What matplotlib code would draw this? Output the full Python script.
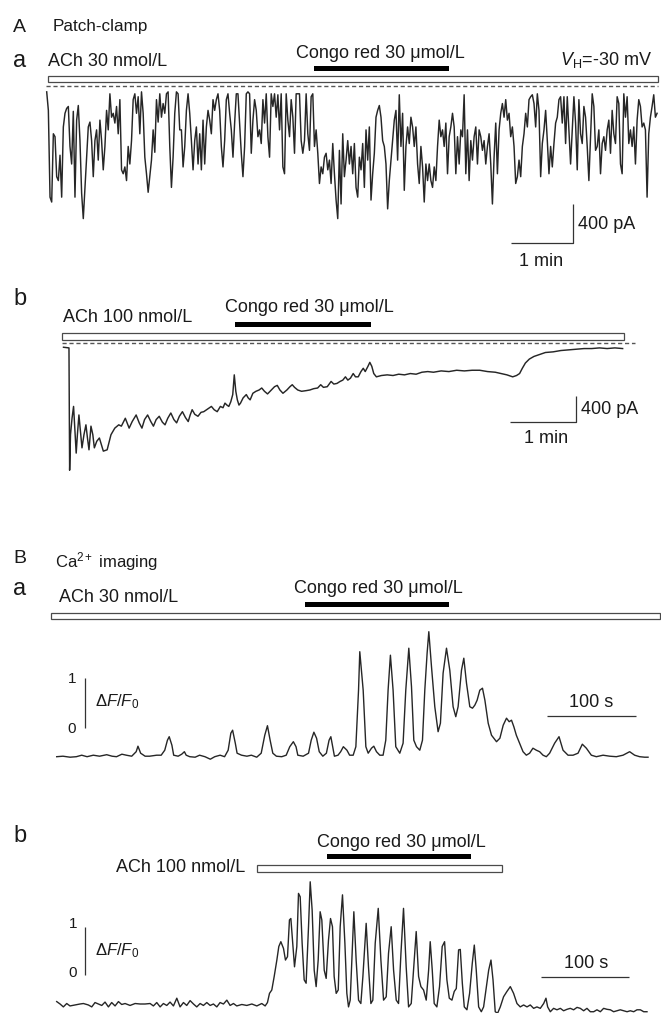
import numpy as np
import matplotlib.pyplot as plt
from matplotlib.patches import Rectangle
from matplotlib.transforms import Affine2D, blended_transform_factory

plt.rcParams['font.family'] = ['Liberation Sans', 'DejaVu Sans']
plt.rcParams['mathtext.fontset'] = 'custom'
plt.rcParams['mathtext.rm'] = 'Liberation Sans'
plt.rcParams['mathtext.it'] = 'Liberation Sans:italic'

# ---------------- data ----------------
# A a: whole-cell current at VH -30 mV, ACh 30 nmol/L, one sample every 1.61 s (pA)
aa_dt = 1.61
aa_current = [
    -60, -250, -1140, -1190, -490, -520, -930, -970, -710, -1140,
    -420, -280, -230, -210, -620, -800, -260, -1140, -350, -200,
    -560, -1100, -1360, -1040, -730, -420, -370, -560, -930, -560,
    -450, -760, -350, -560, -860, -620, -250, -450, -80, -320,
    -280, -380, -210, -490, -140, -860, -900, -830, -970, -620,
    -800, -560, -140, -80, -280, -110, -490, -60, -280, -730,
    -900, -1090, -930, -760, -450, -680, -140, -370, -80, -320,
    -180, -280, -80, -60, -620, -1040, -730, -280, -60, -80,
    -450, -450, -830, -620, -250, -80, -280, -560, -860, -560,
    -420, -800, -490, -860, -350, -800, -420, -250, -350, -490,
    -140, -250, -140, -80, -250, -620, -830, -560, -140, -80,
    -280, -450, -730, -380, -80, -80, -380, -690, -930, -620,
    -80, -60, -80, -690, -350, -140, -250, -520, -450, -590,
    -140, -380, -80, -520, -730, -80, -210, -80, -320, -90,
    -450, -80, -830, -900, -80, -350, -520, -140, -320, -690,
    -80, -80, -80, -560, -690, -560, -80, -490, -660, -110,
    -80, -620, -450, -690, -1000, -830, -900, -730, -690, -860,
    -760, -1000, -590, -900, -1170, -1360,
    -660, -1210, -490, -930, -760, -560, -800, -620, -900, -590,
    -1040, -1140, -730, -860, -590, -1040, -450, -760, -420, -1170,
    -900, -690, -320, -250, -200, -320, -560, -620, -800, -1260,
    -970, -760, -560, -350, -250, -760, -90, -620, -280, -1070,
    -620, -420, -590, -320, -420, -620, -420, -800, -1000, -620,
    -830, -1190, -800, -970, -800, -970, -1040, -830, -970, -620,
    -350, -520, -450, -620, -380, -900, -520, -420, -280, -420,
    -900, -520, -800, -450, -520, -90, -900, -450, -970, -560,
    -760, -520, -420, -800, -450, -520, -660, -560, -800, -620,
    -490, -800, -1210, -730, -380, -900, -450, -280, -180, -320,
    -140, -350, -280, -520, -420, -620, -1000, -930, -760, -930,
    -620, -490, -280, -420, -140, -110, -90, -180, -420, -80,
    -250, -930, -590, -450, -250, -560, -900, -620, -830, -590,
    -380, -320, -140, -110, -380, -110, -590, -110, -450, -800,
    -450, -110, -380, -860, -140, -490, -590, -210, -320, -620,
    -970, -520, -80, -210, -660, -620, -450, -900, -590, -520,
    -660, -450, -350, -690, -250, -490, -590, -110, -180, -800,
    -900, -80, -320, -110, -590, -450, -620, -420, -800, -350,
    -140, -210, -420, -380, -450, -1140, -490, -320, -210, -90,
    -320, -280,
]

# A b: ACh 100 nmol/L (s, pA)
ab_time = [
    0, 4.6, 5.0, 5.6, 6.4, 7.8, 9.2, 10.6, 11.6, 12.7, 14.1, 15.5, 16.9, 18.7,
    20.5, 21.9, 23.3, 25.1, 26.8, 28.2, 30.4, 32.8, 34.6, 36.4, 39.9, 43.4, 46.9,
    50.5, 52.9, 56.5, 60.0, 62.8, 66.4, 69.2, 71.7, 74.1, 76.9, 79.8, 82.2, 84.7,
    87.5, 90.4, 92.8, 95.3, 98.1, 100.9, 103.4, 105.9, 108.7, 111.5, 114.0, 115.8,
    117.6, 120.0, 122.9, 125.7, 128.2, 131.7, 135.2, 137.7, 140.5, 143.4, 145.8,
    147.6, 149.4, 151.1, 152.9, 154.7, 156.1, 157.5, 158.9, 160.4, 161.8, 164.2,
    167.1, 168.8, 170.6, 173.1, 175.9, 178.8, 181.2, 183.7, 186.5, 190.0, 192.9,
    195.4, 197.8, 200.6, 204.2, 207.0, 209.1, 211.2, 214.1, 217.6, 221.8, 225.2,
    228.7, 232.3, 235.1, 237.6, 241.1, 244.6, 247.1, 250.0, 252.8, 255.3, 257.7,
    259.9, 262.3, 264.8, 266.9, 269.4, 271.9, 274.0, 275.8, 278.3, 280.0, 281.8,
    283.6, 286.0, 290.6, 295.9, 301.2, 306.4, 311.7, 317.0, 322.3, 327.6, 332.9,
    338.2, 345.2, 352.3, 359.4, 366.4, 373.5, 380.5, 387.6, 394.7, 400.0, 405.3,
    410.6, 414.1, 416.9, 419.4, 422.2, 425.8, 430.0, 435.2, 440.5, 447.6, 454.6,
    461.7, 468.7, 475.8, 482.8, 489.9, 496.9, 504.0, 511.1,
]
ab_current = [
    -60, -70, -70, -1930, -1390, -1140, -960, -1390, -1670, -1390, -1090, -1340,
    -1590, -1390, -1240, -1440, -1620, -1260, -1390, -1590, -1490, -1440, -1540,
    -1640, -1620, -1390, -1290, -1240, -1260, -1140, -1290, -1190, -1090, -1210,
    -1290, -1160, -1090, -1190, -1260, -1160, -1110, -1200, -1240, -1140, -1060,
    -1160, -1210, -1110, -1040, -1130, -1190, -1090, -1010, -1080, -1110, -1050,
    -1040, -1000, -960, -1010, -1040, -960, -980, -910, -940, -960, -890, -780,
    -480, -730, -860, -940, -910, -830, -780, -830, -860, -760, -730, -710, -680,
    -730, -770, -710, -660, -640, -710, -760, -710, -660, -630, -670, -710, -730,
    -720, -710, -690, -680, -630, -670, -660, -580, -620, -610, -580, -560, -510,
    -560, -530, -460, -510, -510, -430, -380, -430, -350, -290, -350, -460, -510,
    -490, -480, -490, -470, -480, -460, -470, -440, -430, -440, -420, -430, -410,
    -420, -410, -410, -430, -440, -460, -480, -510, -490, -460, -380, -300, -240,
    -200, -170, -140, -130, -110, -100, -90, -80, -80, -70, -80, -70, -80,
]

# B a: Ca2+ signal, ACh 30 nmol/L (s, dF/F0)
ba_time = [
    0, 7, 15, 22, 28, 34, 41, 48, 56, 62, 67, 73, 78, 84, 89, 91, 94, 99, 104, 112,
    117, 121, 124, 126, 129, 131, 136, 140, 143, 145, 149, 155, 160, 166, 172, 177,
    183, 188, 192, 195, 197, 200, 202, 207, 213, 218, 224, 229, 233, 236, 239, 242,
    246, 252, 257, 261, 265, 268, 270, 276, 282, 285, 288, 291, 294, 298, 302, 305,
    307, 309, 311, 315, 318, 321, 325, 328, 332, 335, 338,
    339.4, 343.2, 346.2, 348.8, 352.5, 355.1, 358.1, 361.8, 365.5, 368.5, 371.1,
    373.7, 376.7, 379.7, 384.2, 387.9, 390.9, 394.3, 397.3, 399.9, 402.9, 406.6,
    409.6, 412.2, 414.8, 416.7, 419.7, 423.4, 427.1, 429.7, 432.7, 436.5, 440.2,
    443.9, 446.9, 449.5, 453.3, 455.9, 458.9, 462.6, 465.6, 468.2, 470.8, 473.8,
    476.8, 479.5, 483.2, 486.9, 492.5, 496.3, 500.0, 503.7, 506.7, 509.3, 511.9,
    514.7, 518.4, 522.2, 525.9, 529.6, 533.3, 537.1, 540.8, 544.6, 548.3, 552.0,
    557.6, 562.5, 567.0, 572.6, 578.2, 583.8, 588.6, 593.1, 598.7, 604.3, 611.8,
    619.3, 626.7, 634.2, 641.6, 647.2, 652.8, 658.4, 662.2,
]
ba_dff = [
    0.0, 0.01, -0.01, 0, 0.03, 0, 0.03, 0.01, 0.04, 0.01,
    0, 0.05, 0.03, 0.01, 0.10, 0.21, 0.07, 0.01, 0.01, 0.03,
    0.03, 0.13, 0.33, 0.40, 0.23, 0.03, 0.01, 0.05, 0.10, 0.03,
    0, -0.01, 0.03, 0, -0.05, 0, 0.03, 0, 0.13, 0.47,
    0.53, 0.27, 0.07, 0.03, 0.01, 0.03, -0.01, 0.07, 0.43, 0.62,
    0.33, 0.07, 0.01, 0, 0.03, 0.20, 0.30, 0.20, 0.03, 0.01,
    0.07, 0.33, 0.49, 0.37, 0.10, 0.01, 0.07, 0.33, 0.40, 0.20,
    0.01, 0.03, 0.10, 0.20, 0.13, 0.03, 0.03, 0.20, 1.33,
    2.10, 1.33, 0.20, 0.07, 0.17, 0.21, 0.10, 0.03, 0.03, 0.33,
    1.33, 2.03, 1.33, 0.20, 0.07, 0.27, 1.33, 2.17, 1.40, 0.33,
    0.20, 0.13, 0.33, 1.33, 2.07, 2.50, 1.80, 1.00, 0.50, 0.67,
    1.67, 2.17, 1.73, 1.00, 0.80, 1.00, 1.73, 1.97, 1.47, 1.00,
    0.97, 1.03, 1.13, 1.33, 1.37, 1.13, 0.67, 0.43, 0.30, 0.37,
    0.63, 0.77, 0.70, 0.73, 0.60, 0.43, 0.27, 0.10, 0.03, 0.07,
    0.17, 0.13, 0.10, 0.03, 0, 0.07, 0.27, 0.40, 0.13, 0.03,
    0.03, 0.07, 0.25, 0.17, 0.03, 0, 0.03, 0.01, 0, 0.03,
    0.10, 0.03, 0, -0.01, -0.01,
]

# B b: Ca2+ signal, ACh 100 nmol/L (s, dF/F0)
bb_time = [
    0.0, 3.8, 7.5, 11.3, 15.0, 20.7, 26.3, 30.1, 35.7, 39.5,
    43.2, 47.0, 50.8, 54.5, 58.3, 62.0, 65.8, 69.6, 73.3, 77.1,
    82.7, 88.4, 94.0, 99.6, 105.3, 109.0, 112.8, 116.6, 120.3, 124.1,
    127.8, 131.6, 135.4, 139.1, 142.9, 146.6, 150.4, 154.2, 157.9, 161.7,
    165.4, 169.2, 173.0, 176.7, 180.5, 184.2, 188.0, 191.8, 195.5, 199.3,
    203.0, 208.7, 214.3, 220.0, 225.6, 231.2, 235.0, 237.6, 239.9, 242.5,
    245.2, 248.2, 250.4, 252.7, 255.7, 257.9, 260.2, 262.4, 264.0, 265.8,
    268.1, 270.7, 272.6, 274.5, 276.7, 279.0, 281.2, 283.9, 285.8, 288.0,
    290.3, 292.5, 294.8, 297.0, 298.9, 301.6, 303.8, 306.4, 308.7, 310.9,
    312.8, 315.1, 317.4, 319.6, 322.2, 324.9, 327.1, 329.0, 330.9, 332.8,
    335.0, 337.6, 340.3,
    342.9, 345.2, 348.9, 351.5, 354.2, 356.4, 359.1, 362.5, 365.5, 368.5,
    371.5, 374.1, 377.1, 379.8, 382.8, 385.4, 388.1, 391.0, 394.0, 396.7,
    399.7, 402.3, 405.3, 408.0, 410.6, 413.6, 416.6, 419.3, 421.1, 423.4,
    425.6, 428.6, 431.6, 434.6, 437.3, 439.9, 442.6, 445.6, 448.2, 450.5,
    453.1, 455.0, 457.3, 459.5, 462.5, 465.5, 468.5, 470.8, 473.0, 475.7,
    478.7, 481.3, 484.4, 487.0, 489.6, 491.9, 494.4, 497.1, 500.1, 503.8,
    507.6, 511.4, 515.1, 518.9, 522.6, 526.4, 530.2, 533.9, 537.7, 541.4,
    545.2, 549.0, 551.6, 553.5, 556.5, 560.2, 564.0, 567.8, 571.5, 575.3,
    579.0, 582.8, 586.6, 590.3, 594.1, 597.8, 601.6, 605.4, 609.1, 612.9,
    616.6, 620.4, 624.2, 627.9, 631.7, 635.4, 639.2, 643.0, 646.7, 650.5,
    654.2, 658.0, 661.8, 665.5,
]
bb_dff = [
    0.05, 0.00, -0.06, 0.01, -0.04, -0.02, 0.00, 0.01, -0.02, -0.06,
    0.03, 0.00, -0.03, 0.04, -0.06, 0.03, -0.04, 0.05, -0.01, 0.01,
    -0.03, 0.01, 0.00, 0.00, 0.01, -0.04, 0.03, -0.06, 0.01, -0.03,
    0.04, -0.04, 0.12, -0.06, 0.03, -0.03, 0.07, 0.00, -0.06, 0.01,
    -0.03, 0.03, -0.03, 0.00, -0.06, 0.03, 0.00, 0.08, -0.03, 0.01,
    -0.04, -0.01, -0.03, 0.00, -0.04, 0.01, -0.04, 0.03, 0.22, 0.29,
    0.57, 0.91, 1.19, 1.29, 1.15, 0.91, 0.98, 1.74, 1.77, 1.32,
    0.77, 1.19, 2.29, 2.22, 1.26, 0.50, 0.43, 1.60, 2.53, 1.94,
    0.70, 0.36, 0.91, 1.91, 1.74, 0.70, 0.53, 1.32, 1.77, 1.60,
    0.57, 0.22, 0.29, 1.60, 2.26, 1.26, 0.22, -0.06, 0.08, 0.91,
    1.91, 0.91, 0.08,
    0.01, 0.57, 1.67, 0.77, 0.01, 0.08, 1.26, 1.98, 0.91, 0.08,
    0.15, 1.05, 1.60, 0.70, 0.08, 0.01, 1.05, 1.98, 0.77, -0.06,
    0.01, 0.70, 1.50, 0.57, 0.36, 0.29, 0.08, 0.70, 1.29, 0.70,
    0.01, -0.06, 0.36, 1.19, 1.29, 0.50, 0.12, 0.08, 0.26, 0.32,
    1.12, 1.13, 0.43, -0.06, -0.12, 0.22, 0.84, 1.22, 0.70, -0.06,
    -0.16, -0.06, 0.36, 0.70, 0.91, 0.50, -0.16, -0.19, -0.06, 0.15,
    0.26, 0.36, 0.22, 0.01, -0.06, -0.02, -0.06, -0.02, -0.09, -0.06,
    -0.09, 0.01, 0.12, -0.06, -0.16, -0.09, -0.12, -0.09, -0.14, -0.11,
    -0.09, -0.12, -0.07, -0.09, -0.14, -0.09, -0.16, -0.16, -0.12, -0.16,
    -0.09, -0.11, -0.12, -0.16, -0.14, -0.12, -0.14, -0.16, -0.14, -0.16,
    -0.12, -0.12, -0.16, -0.16,
]

# drug application periods (s)
aa_ach, aa_congo = (1.3, 592), (259, 389)
ab_ach, ab_congo = (-1.4, 512), (157, 281)
ba_ach, ba_congo = (-6.4, 675.6), (278, 439)
bb_ach, bb_congo = (226, 502), (305, 467)

congo_label = 'Congo red 30 \u03bcmol/L'
dff_label = r'$\Delta F/F_0$'

# ---------------- figure ----------------
W, H = 661, 1013
fig = plt.figure(figsize=(W / 100, H / 100), dpi=100)
PX = Affine2D().scale(1, -1).translate(0, H)   # pixels from top-left corner

TRACE = '#262626'
FS = 13


def panel(top, bottom, x0, sx, y0, sy):
    # x0/y0: pixel of time 0 / value 0, sx/sy: pixels per unit
    ax = fig.add_axes([0, 1 - bottom / H, 1, (bottom - top) / H])
    ax.set_xlim(-x0 / sx, (W - x0) / sx)
    ax.set_ylim((y0 - bottom) / sy, (y0 - top) / sy)
    ax.axis('off')
    return ax


def drug_bar(ax, span, top, height, filled):
    tr = blended_transform_factory(ax.transData, PX)
    ax.add_patch(Rectangle((span[0], top), span[1] - span[0], height, transform=tr,
                           clip_on=False, facecolor='black' if filled else 'white',
                           edgecolor='black' if filled else '#4a4a4a',
                           lw=0 if filled else 0.9))


def txt(x, y, s, size=FS, ha='left'):
    fig.text(x, y, s, transform=PX, fontsize=size, ha=ha, va='baseline', color='#1a1a1a')


def scale_bar(ax, pts):
    xs, ys = zip(*pts)
    ax.plot(xs, ys, color='#333333', lw=0.9, solid_capstyle='butt', clip_on=False)


# A a
ax = panel(40, 290, 46.7, 1.033, 86, 0.0975)
ax.plot(np.arange(len(aa_current)) * aa_dt, aa_current, color=TRACE, lw=1.05)
ax.plot([-1, 592], [0, 0], color='#555555', lw=1.0, dashes=(3, 2))
drug_bar(ax, aa_ach, 76, 6, False)
drug_bar(ax, aa_congo, 66, 5, True)
scale_bar(ax, [(449.5, -1607), (509.5, -1607), (509.5, -1207)])
txt(13, 32, 'A', 14)
txt(53, 31, 'Patch-clamp', 12.3)
txt(13, 67, 'a', 17)
txt(48, 66, 'ACh 30 nmol/L')
txt(380, 58, congo_label, ha='center')
txt(652, 65, r'$V_{\rm H}$=-30 mV', ha='right')
txt(578, 229, '400 pA')
txt(541, 266, '1 min', ha='center')

# A b
ax = panel(320, 480, 63.5, 1.094, 343.3, 0.06575)
ax.plot(ab_time, ab_current, color=TRACE, lw=1.05)
ax.plot([-1.4, 522], [0, 0], color='#555555', lw=1.0, dashes=(3, 2))
drug_bar(ax, ab_ach, 333, 7, False)
drug_bar(ax, ab_congo, 322, 5, True)
scale_bar(ax, [(408.5, -1200), (468.5, -1200), (468.5, -800)])
txt(13, 305, 'b', 17)
txt(63, 322, 'ACh 100 nmol/L')
txt(309, 312, congo_label, ha='center')
txt(581, 414, '400 pA')
txt(546, 443, '1 min', ha='center')

# B a
ax = panel(600, 800, 56.7, 0.893, 756.7, 50)
ax.plot(ba_time, ba_dff, color=TRACE, lw=1.0)
drug_bar(ax, ba_ach, 613, 6, False)
drug_bar(ax, ba_congo, 602, 5, True)
scale_bar(ax, [(31.7, 0.567), (31.7, 1.567)])
scale_bar(ax, [(548.7, 0.82), (648.7, 0.82)])
txt(13, 563, 'B', 14)
txt(55, 567, 'Ca$^{2+}$ imaging', 12)
txt(13, 595, 'a', 17)
txt(59, 602, 'ACh 30 nmol/L')
txt(378, 593, congo_label, ha='center')
txt(76, 683, '1', 11, ha='right')
txt(76, 733, '0', 11, ha='right')
txt(95, 706, dff_label, 12)
txt(591, 707, '100 s', ha='center')

# B b
ax = panel(840, 1013, 56.7, 0.887, 1004, 48.3)
ax.plot(bb_time, bb_dff, color=TRACE, lw=1.0)
drug_bar(ax, bb_ach, 865, 7, False)
drug_bar(ax, bb_congo, 854, 5, True)
scale_bar(ax, [(31.9, 0.6), (31.9, 1.6)])
scale_bar(ax, [(545.7, 0.565), (645.7, 0.565)])
txt(13, 842, 'b', 17)
txt(401, 847, congo_label, ha='center')
txt(245, 872, 'ACh 100 nmol/L', ha='right')
txt(77, 928, '1', 11, ha='right')
txt(77, 977, '0', 11, ha='right')
txt(95, 955, dff_label, 12)
txt(586, 968, '100 s', ha='center')

fig.savefig('out.png', dpi=100)
